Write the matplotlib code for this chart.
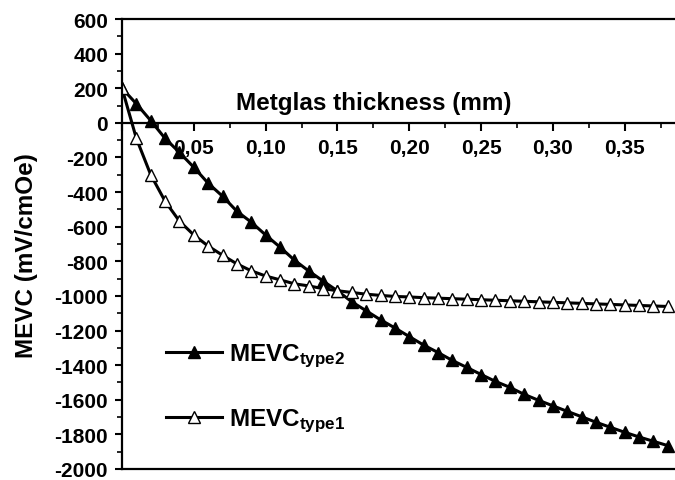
import matplotlib
matplotlib.use("Agg")
import matplotlib.pyplot as plt
from matplotlib.ticker import MultipleLocator, FuncFormatter

# thickness (mm)
thickness = [0.00, 0.01, 0.02, 0.03, 0.04, 0.05, 0.06, 0.07, 0.08, 0.09,
             0.10, 0.11, 0.12, 0.13, 0.14, 0.15, 0.16, 0.17, 0.18, 0.19,
             0.20, 0.21, 0.22, 0.23, 0.24, 0.25, 0.26, 0.27, 0.28, 0.29,
             0.30, 0.31, 0.32, 0.33, 0.34, 0.35, 0.36, 0.37, 0.38]

# MEVC type 2 (filled triangles)
mevc_type2 = [200, 110, 13, -90, -171, -257, -349, -424, -511, -574,
              -648, -718, -793, -856, -914, -971, -1034, -1086, -1138, -1185,
              -1235, -1284, -1327, -1373, -1413, -1454, -1494, -1528, -1569, -1603,
              -1635, -1667, -1698, -1730, -1759, -1788, -1815, -1840, -1865]

# MEVC type 1 (open triangles)
mevc_type1 = [200, -90, -300, -453, -568, -648, -712, -765, -815, -855,
              -885, -907, -930, -942, -958, -970, -980, -990, -997, -1003,
              -1006, -1010, -1013, -1016, -1019, -1022, -1025, -1028, -1031, -1034,
              -1037, -1040, -1043, -1046, -1049, -1052, -1055, -1058, -1061]

plt.rcParams['font.family'] = ['Liberation Sans', 'DejaVu Sans']
plt.rcParams['font.weight'] = 'bold'
plt.rcParams['axes.unicode_minus'] = False
plt.rcParams['mathtext.fontset'] = 'custom'
plt.rcParams['mathtext.rm'] = 'Liberation Sans:bold'
plt.rcParams['mathtext.bf'] = 'Liberation Sans:bold'
plt.rcParams['mathtext.it'] = 'Liberation Sans:bold'

fig = plt.figure(figsize=(6.75, 4.81), dpi=100)
ax = fig.add_axes([122 / 675, 11 / 481, 553 / 675, 450 / 481])

ax.plot(thickness, mevc_type2, color='black', lw=2.2, marker='^', ms=8,
        mfc='black', mec='black', label=r'MEVC$_{\mathregular{type2}}$')
ax.plot(thickness, mevc_type1, color='black', lw=2.2, marker='^', ms=8.5,
        mfc='white', mec='black', mew=1.0, label=r'MEVC$_{\mathregular{type1}}$')

ax.set_xlim(0, 0.385)
ax.set_ylim(-2000, 600)

# x axis drawn through y = 0, frame line at the bottom
ax.spines['bottom'].set_position(('data', 0))
ax.spines['right'].set_visible(False)
for s in ['left', 'bottom', 'top']:
    ax.spines[s].set_linewidth(1.6)
ax.axhline(-2000, color='black', lw=1.6, clip_on=False, zorder=5)

ax.xaxis.set_major_locator(MultipleLocator(0.05))
ax.xaxis.set_minor_locator(MultipleLocator(0.025))
ax.xaxis.set_major_formatter(FuncFormatter(
    lambda v, p: '' if abs(v) < 1e-9 else ('%.2f' % v).replace('.', ',')))
ax.yaxis.set_major_locator(MultipleLocator(200))
ax.yaxis.set_minor_locator(MultipleLocator(100))

ax.tick_params(axis='both', which='major', direction='out', width=1.5,
               labelsize=15)
ax.tick_params(axis='y', which='major', length=5, pad=5)
ax.tick_params(axis='x', which='major', length=6, pad=5)
ax.tick_params(axis='both', which='minor', direction='out', length=3.5, width=1.2)
ax.tick_params(axis='x', top=False, which='both')

ax.set_ylabel('MEVC (mV/cmOe)', fontsize=17.5, fontweight='bold')
ax.yaxis.set_label_coords(-0.152, 0.476)
ax.text(0.455, 0.801, 'Metglas thickness (mm)', transform=ax.transAxes,
        fontsize=17.5, fontweight='bold', ha='center', va='baseline')

ax.legend(loc='center left', bbox_to_anchor=(0.057, 0.18), frameon=False,
          fontsize=17.5, handlelength=2.3, labelspacing=1.55, borderpad=0,
          handletextpad=0.3)

fig.savefig('out.png', dpi=100)
